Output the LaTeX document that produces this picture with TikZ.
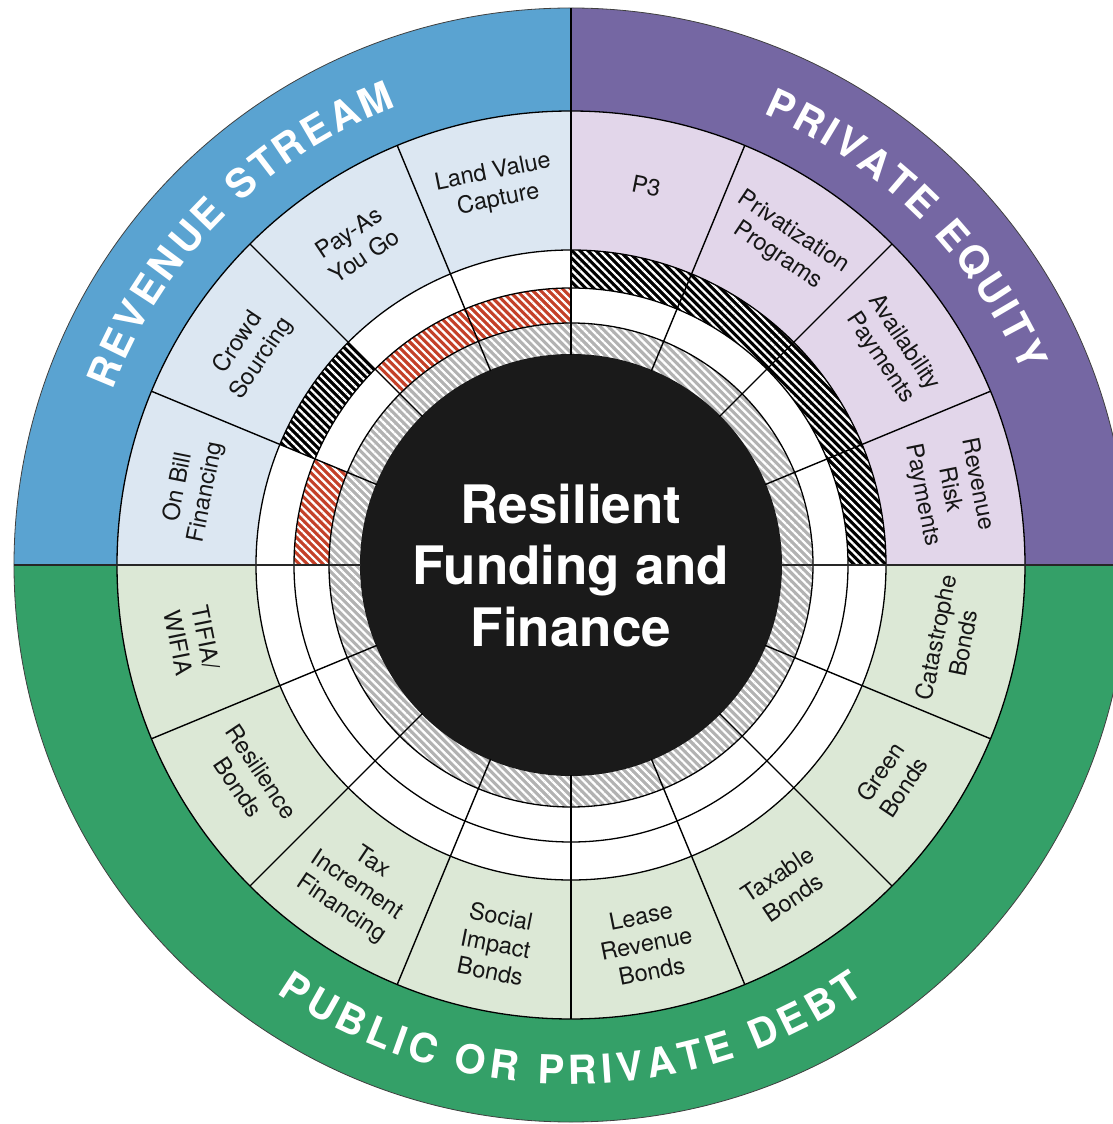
\documentclass[tikz,border=0pt]{standalone}
\usepackage{fontspec}
\setmainfont{TeX Gyre Heros}
\usetikzlibrary{patterns.meta}

\definecolor{revblue}{RGB}{90,163,209}
\definecolor{eqpurple}{RGB}{117,103,163}
\definecolor{debtgreen}{RGB}{52,160,104}
\definecolor{revlight}{RGB}{220,231,242}
\definecolor{eqlight}{RGB}{226,214,234}
\definecolor{debtlight}{RGB}{220,232,214}
\definecolor{hatchred}{RGB}{196,64,40}
\definecolor{hatchgrey}{RGB}{178,178,178}
\definecolor{hubblack}{RGB}{26,26,26}
\definecolor{inkdark}{RGB}{22,22,22}

\newcommand\titlefont{\fontsize{40}{40}\selectfont\bfseries}
\newcommand\segfont{\fontsize{23.5}{28}\selectfont}
\newcommand\hubfont{\fontsize{53}{61.5}\selectfont\bfseries}
\def\titlesize{40}
\def\titlegap{4}
\def\capmid{14.4}
\def\spacemark{|}

% advance widths of the bold capitals, in em
\newcommand\setglyphw[2]{\expandafter\def\csname hw@#1\endcsname{#2}}
\setglyphw{A}{0.722}\setglyphw{B}{0.722}\setglyphw{C}{0.722}
\setglyphw{D}{0.722}\setglyphw{E}{0.667}\setglyphw{I}{0.278}
\setglyphw{L}{0.611}\setglyphw{M}{0.833}\setglyphw{N}{0.722}
\setglyphw{O}{0.778}\setglyphw{P}{0.667}\setglyphw{Q}{0.778}
\setglyphw{R}{0.722}\setglyphw{S}{0.667}\setglyphw{T}{0.611}
\setglyphw{U}{0.722}\setglyphw{V}{0.667}\setglyphw{Y}{0.667}
\setglyphw{|}{0.278}

% annular piece: #1 style, #2 start angle, #3 end angle, #4 inner radius, #5 outer radius
\newcommand\ringpiece[5]{%
  \path[#1] (#2:#5) arc[start angle=#2, end angle=#3, radius=#5pt]
    -- (#3:#4) arc[start angle=#3, end angle=#2, radius=#4pt] -- cycle;}

% letters set along a circle: #1 centre angle, #2 radius of letter middles,
% #3 direction (-1 clockwise, tops outward; 1 counter-clockwise, tops inward),
% #4 letters (| for a word space), #5 name prefix
\newcommand\arctitle[5]{%
  \gdef\arcsum{0}%
  \foreach \ch in {#4}{%
    \edef\gwem{\csname hw@\ch\endcsname}%
    \pgfmathsetmacro\tmpsum{\arcsum+\gwem*\titlesize+\titlegap}%
    \xdef\arcsum{\tmpsum}%
  }%
  \pgfmathsetmacro\arcspan{deg((\arcsum-\titlegap)/#2)}%
  \pgfmathsetmacro\tmpcur{#1-(#3)*\arcspan/2}%
  \xdef\arccur{\tmpcur}%
  \foreach \ch [count=\k] in {#4}{%
    \edef\gwem{\csname hw@\ch\endcsname}%
    \pgfmathsetmacro\glyphhalf{deg(0.5*\gwem*\titlesize/#2)}%
    \pgfmathsetmacro\glyphang{\arccur+(#3)*\glyphhalf}%
    \pgfmathsetmacro\glyphrad{#2+(#3)*\capmid}%
    \pgfmathsetmacro\glyphrot{\glyphang+(#3)*90}%
    \ifx\ch\spacemark\def\glyphtext{}\else\let\glyphtext\ch\fi
    \node[titleglyph, rotate=\glyphrot] (#5-\k) at (\glyphang:\glyphrad) {\glyphtext};%
    \pgfmathsetmacro\tmpcur{\glyphang+(#3)*(\glyphhalf+deg(\titlegap/#2))}%
    \xdef\arccur{\tmpcur}%
  }%
}

\tikzset{
  seglabel/.style={font=\segfont, align=center, text=inkdark, inner sep=0pt},
  titleglyph/.style={font=\titlefont, text=white, inner sep=0pt, outer sep=0pt, anchor=base},
  hubtext/.style={font=\hubfont, text=white, align=center, inner sep=0pt},
  spoke/.style={draw=black, line width=1.4pt},
  ringline/.style={draw=black, line width=1.3pt},
  rimline/.style={draw=black!75, line width=0.8pt},
  divider/.style={draw=black!85, line width=1.8pt},
  striped/.style={preaction={fill=#1},
    pattern={Lines[angle=-45,distance=5.6pt,line width=2.2pt]}, pattern color=white},
}

\begin{document}
\begin{tikzpicture}[x=1pt, y=1pt, line join=round]
  \useasboundingbox (-571,-559) rectangle (541,565);

  % outer band: three families
  \fill[revblue] (0,0) -- (90:557) arc[start angle=90, end angle=180, radius=557pt] -- cycle;
  \fill[eqpurple] (0,0) -- (0:557) arc[start angle=0, end angle=90, radius=557pt] -- cycle;
  \fill[debtgreen] (0,0) -- (180:557) arc[start angle=180, end angle=360, radius=557pt] -- cycle;
  \draw[rimline] (0,0) circle[radius=557pt];

  % instrument segments
  \ringpiece{fill=revlight}{90}{180}{315}{454}
  \ringpiece{fill=eqlight}{0}{90}{315}{454}
  \ringpiece{fill=debtlight}{180}{360}{315}{454}

  % inner rings
  \ringpiece{fill=white}{0}{360}{242}{315}
  \ringpiece{striped=black}{0}{90}{277}{315}
  \ringpiece{striped=black}{135}{157.5}{277}{315}
  \ringpiece{striped=hatchred}{90}{135}{242}{277}
  \ringpiece{striped=hatchred}{157.5}{180}{242}{277}
  \ringpiece{striped=hatchgrey}{0}{360}{210}{242}

  % hub
  \fill[hubblack] (0,0) circle[radius=211pt];

  % ring outlines and spokes
  \foreach \r in {242pt,277pt,315pt,454pt}
    \draw[ringline] (0,0) circle[radius=\r];
  \foreach \a in {22.5,45,...,337.5}
    \draw[spoke] (\a:210) -- (\a:454);
  \coordinate (rimE) at (0:557);
  \coordinate (rimW) at (180:557);
  \coordinate (rimN) at (90:557);
  \coordinate (hubE) at (0:210);
  \coordinate (hubW) at (180:210);
  \coordinate (segN) at (90:454);
  \draw[divider] (rimW) -- (hubW);
  \draw[divider] (hubE) -- (rimE);
  \draw[spoke] (segN) -- (rimN);

  % hub text
  \node[hubtext] (hub) at (0,0) {Resilient\\Funding and\\Finance};

  % revenue stream
  \node[seglabel, rotate=11.25] (lvc) at (101.25:386) {Land Value\\Capture};
  \node[seglabel, rotate=33.75] (payg) at (123.75:386) {Pay-As\\You Go};
  \node[seglabel, rotate=56.25] (crowd) at (146.25:386) {Crowd\\Sourcing};
  \node[seglabel, rotate=78.75] (onbill) at (168.75:386) {On Bill\\Financing};

  % private equity
  \node[seglabel, rotate=-11.25] (p3) at (78.75:386) {P3};
  \node[seglabel, rotate=-33.75] (privat) at (56.25:386) {Privatization\\Programs};
  \node[seglabel, rotate=-56.25] (avail) at (33.75:386) {Availability\\Payments};
  \node[seglabel, rotate=-78.75] (rrp) at (11.25:386) {Revenue\\Risk\\Payments};

  % public or private debt
  \node[seglabel, rotate=78.75] (cat) at (348.75:386) {Catastrophe\\Bonds};
  \node[seglabel, rotate=56.25] (green) at (326.25:386) {Green\\Bonds};
  \node[seglabel, rotate=33.75] (taxable) at (303.75:386) {Taxable\\Bonds};
  \node[seglabel, rotate=11.25] (lease) at (281.25:386) {Lease\\Revenue\\Bonds};
  \node[seglabel, rotate=-11.25] (social) at (258.75:386) {Social\\Impact\\Bonds};
  \node[seglabel, rotate=-33.75] (tif) at (236.25:386) {Tax\\Increment\\Financing};
  \node[seglabel, rotate=-56.25] (resil) at (213.75:386) {Resilience\\Bonds};
  \node[seglabel, rotate=-78.75] (tifia) at (191.25:386) {TIFIA/\\WIFIA};

  % family titles
  \arctitle{135}{505}{-1}{R,E,V,E,N,U,E,|,S,T,R,E,A,M}{rs}
  \arctitle{45}{505}{-1}{P,R,I,V,A,T,E,|,E,Q,U,I,T,Y}{pe}
  \arctitle{270}{505}{1}{P,U,B,L,I,C,|,O,R,|,P,R,I,V,A,T,E,|,D,E,B,T}{pd}
\end{tikzpicture}
\end{document}
